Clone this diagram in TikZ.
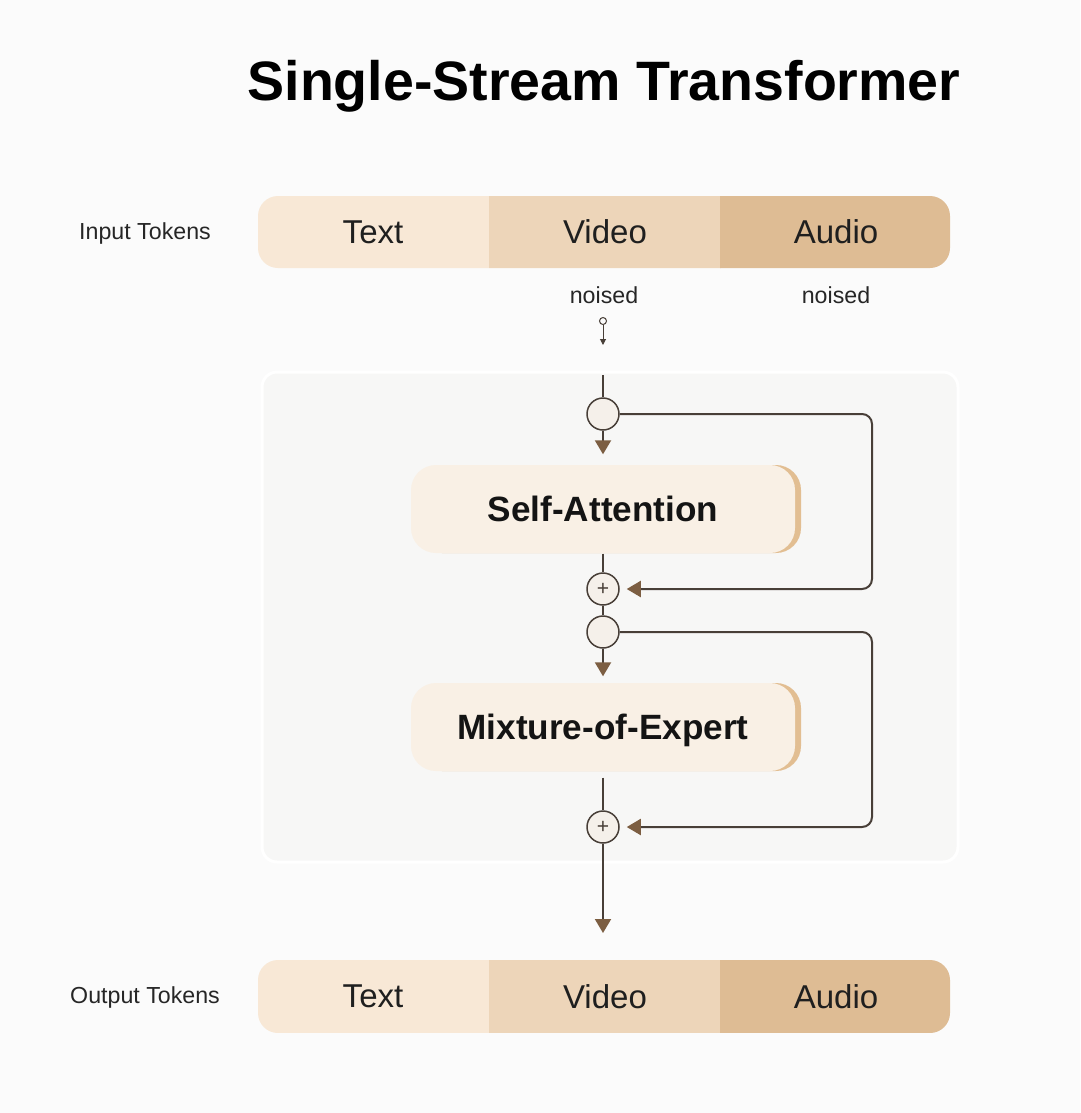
\documentclass[tikz,border=0pt]{standalone}
\usepackage{fontspec}
\setmainfont{Liberation Sans}
\usetikzlibrary{positioning, arrows.meta, shadows}

\definecolor{paperbg}{RGB}{251,251,251}
\definecolor{panelbg}{RGB}{247,247,246}
\definecolor{textseg}{RGB}{248,232,214}
\definecolor{videoseg}{RGB}{237,213,185}
\definecolor{audioseg}{RGB}{222,188,148}
\definecolor{blockfill}{RGB}{249,240,229}
\definecolor{blockedge}{RGB}{226,190,146}
\definecolor{wiregray}{RGB}{72,63,56}
\definecolor{tipbrown}{RGB}{124,94,66}
\definecolor{dotfill}{RGB}{245,240,234}

\tikzset{
    flow/.style={draw=wiregray, line width=0.2mm},
    flowarrow/.style={flow, -{Triangle[length=1.4mm, width=1.6mm, color=tipbrown]}},
    segment/.style={minimum width=23.2mm, minimum height=7.3mm, inner sep=0pt,
        font=\fontsize{9.4}{11}\selectfont, text=black!88},
    tokenlabel/.style={font=\fontsize{6.6}{8}\selectfont, text=black!85},
    block/.style={fill=blockfill, rounded corners=2.5mm, minimum width=38.4mm,
        minimum height=8.8mm, inner sep=0pt, text depth=0pt,
        font=\bfseries\fontsize{10}{12}\selectfont, text=black!92,
        drop shadow={shadow xshift=0.6mm, shadow yshift=0mm, fill=blockedge, opacity=1}},
    splitdot/.style={circle, draw=wiregray, line width=0.15mm, fill=dotfill,
        minimum size=3.2mm, inner sep=0pt},
    adddot/.style={splitdot, font=\fontsize{6}{6}\selectfont, text=wiregray}
}

\begin{document}
\begin{tikzpicture}[x=0.1mm, y=-0.1mm]
        % Page and panel
        \fill[paperbg] (0,0) rectangle (1080,1113);
        \useasboundingbox (0,0) rectangle (1080,1113);
        \fill[panelbg, draw=white, line width=0.3mm, rounded corners=1.5mm] (262,372) rectangle (958,862);

        % Title
        \node[font=\bfseries\fontsize{15.8}{19}\selectfont, anchor=base] (title) at (604,100) {Single-Stream Transformer};

        % --- Input tokens ---
        \begin{scope}
            \clip[rounded corners=2mm] (258,196) rectangle (950,268);
            \node[segment, fill=textseg] (textIn) at (373,232) {Text};
            \node[segment, fill=videoseg] (videoIn) at (605,232) {Video};
            \node[segment, fill=audioseg] (audioIn) at (836,232) {Audio};
        \end{scope}
        \node[tokenlabel] (inLabel) at (145,233) {Input Tokens};

        % noised modalities
        \node[tokenlabel] (noiseVideo) at (604,295) {noised};
        \node[tokenlabel] (noiseAudio) at (836,295) {noised};
        \node[circle, draw=wiregray, line width=0.1mm, minimum size=0.7mm, inner sep=0pt] (noiseDot) at (603,321) {};
        \coordinate (noiseTip) at (603,345);
        \draw[draw=wiregray, line width=0.1mm, -{Triangle[length=0.6mm, width=0.6mm]}] (noiseDot) -- (noiseTip);

        % --- Transformer block ---
        \coordinate (streamTop) at (603,375);
        \node[splitdot] (split1) at (603,414) {};
        \node[block] (attn) at (603,509) {Self-Attention};
        \node[adddot] (add1) at (603,589) {+};
        \node[splitdot] (split2) at (603,632) {};
        \node[block] (moe) at (603,727) {Mixture-of-Expert};
        \node[adddot] (add2) at (603,827) {+};
        \coordinate (streamEnd) at (603,933);

        % main stream
        \draw[flow] (streamTop) -- (split1);
        \draw[flowarrow, shorten >=1mm] (split1) -- (attn);
        \draw[flow] (attn) -- (add1);
        \draw[flow] (add1) -- (split2);
        \draw[flowarrow, shorten >=0.6mm] (split2) -- (moe);
        \draw[flow, shorten <=0.6mm] (moe) -- (add2);
        \draw[flowarrow] (add2) -- (streamEnd);

        % residual connections
        \coordinate (skip1) at (872,414);
        \coordinate (skip2) at (872,632);
        \draw[flowarrow, rounded corners=1mm, shorten >=0.7mm] (split1) -- (skip1) |- (add1);
        \draw[flowarrow, rounded corners=1mm, shorten >=0.7mm] (split2) -- (skip2) |- (add2);

        % --- Output tokens ---
        \begin{scope}
            \clip[rounded corners=2mm] (258,960) rectangle (950,1033);
            \node[segment, fill=textseg] (textOut) at (373,996.5) {Text};
            \node[segment, fill=videoseg] (videoOut) at (605,996.5) {Video};
            \node[segment, fill=audioseg] (audioOut) at (836,996.5) {Audio};
        \end{scope}
        \node[tokenlabel] (outLabel) at (145,997) {Output Tokens};
\end{tikzpicture}
\end{document}
